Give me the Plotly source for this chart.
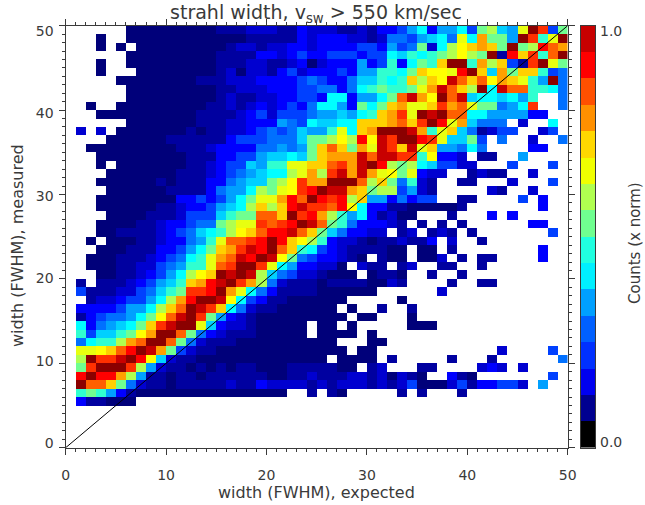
import plotly.graph_objects as go

W, H = 645, 505
TITLE = "strahl width, v<sub>sw</sub> &gt; 550 km/sec"
X_TITLE = "width (FWHM), expected"
Y_TITLE = "width (FWHM), measured"
BAR_TITLE = "Counts (x norm)"
TICKS = [0, 10, 20, 30, 40, 50]
BAR_LABELS = ["0.0", "1.0"]

# Colour level of each cell; top row (49-50) first, '.' = no counts
LEVEL_CODES = "0123456789abcdefghijk"
rows = [
    "......000000000111222113" "2" "2211213346" "83668" "4ab76" "ckh4a",
    "...0.." "000000000000" "11111" "32" "3332212554" "6785c" "8faa6" "kh9ck",
    "...0.0." "000000000" "122" "1" "22" "332" "3333443645" "a28bd" "efeak" "abigf",
    "......" "000000000" "1111" "33" "2343" "3444344879" "89abd" "bak1i" "eh9gk",
    "...0.." "000000000" "111" "22" "11" "230" "2333634938" "a9ekk" "9fbe4" "1hkca",
    "...0..." "00000000" "120221" "3423" "334366998a" "eddci" "ke7fa" "ee945",
    "....." "00000000" "111" "222" "3333" "45" "433577989e" "bedjg" "egdfe" "c96k5",
    "......" "000000000" "11222" "333" "44" "553589a99a" "cfjgeb" "k8j" "gg" "9985",
    "......" "000000000" "1211" "22" "33" "44" "3883668agj" "fdkgj" "78878" "69" ".." "5",
    "..0.." "000000000" "11212" "32" "3435" "8863a8aefc" "cehfg" "caa" "568" "h" ".." "5",
    "..." "0000000000" "1111" "2" "3424445" "667689efhc" "kjkgg" "88" "6666" "33" "..",
    "......" "0000000" "111" "22" "333" "6548" "7788eeefge" "hkicf" "7555" "." "2" ".." "8.",
    ".2.2." "0000000" "1011" "22" "3454" "576" "69c8efkkkj" "f9ce75" "12" "44" ".." "24" ".",
    "...." "000000" "111111" "3444" "555" "7a" "abdbidjhkk" "ihc" "77a4" "." "5" ".." "2" ".." "5",
    ".." "000000000" "111" "2" "3333" "55" "656" "a" "egeafcjhej" "ce" "66585" "...." "33" "..",
    "..." "000000000" "111" "3344" "677" "87a" "efffjgjjhh" "9d33" "2" "." "11" ".." "6" "....",
    "...0." "0000000" "11" "2344" "76" "99" "cce" "eghfjkibab" "8744" "22" "..." "4" "..." "4.",
    "...." "0000000" "111" "234567" "88" "bcf" "bhjfjfcdac322" ".." "1211" ".." "2" "...",
    "..." "000000" "1" "0" "111" "3356" "77" "abd" "hf" "fkkkgbea5921" ".." "11" "..." "2" "..." "4.",
    "...." "000000" "1111" "3566" "8bacd" "hi" "kjjfeabb4621" "....." "21" ".." "2" "...",
    "..." "00000000" "33434" "68a" "ccf" "igk" "ihibe66" "35344" ".." "11" "...." "4" "." "3" "..",
    "..." "000000" "11" "2334" "678" "bebe" "ijh" "hgid83311" "00000" "1" "......." "3..",
    "....0000" "111" "2" "444" "79aa" "gge" "khi" "fb96831200" "..." "1" "..." "3" "." "3" ".....",
    "...0000" "11" "2334" "55" "abcc" "hghikj" "ga95333" "21" "." "1" "." "1" "." "1" "......" "33" "..",
    "...0011112345789bdegiijge" "a753322" "." "12" "." "121" "." "1" "......." "4.",
    "..0.00011233569cgghikiedb" "932210112113" "." "2" ".." "1" "........",
    "...000111334" "68a" "efhjikge" "98" "432" "1111" "00" "." "00" "." "1" "........" "3..",
    "..000111234589cfgjikjda54" "33210" "." "100" "." "002" "." "1" "." "11" "...." "3..",
    "..000112245699cghkkhc8633" "220" ".211" "." "12" ".." "11" ".." "1" "........",
    "...001123468bdekjkjb75422" "1000" "." "0110" ".." "1" ".." "1" "..........",
    ".1.111234679efijkhfb52111" "011110021" "...." "1" ".." "11" ".......",
    ".4111224579ahhikfc853" "1111" "000000" "......" "2" "............",
    "..122344" "68bfikkjd84311" "000" "000" "....." "0" "................",
    ".33334668begkjhe85211" "0000" "00.0" ".." "1" ".." "1" "...............",
    ".1345568adgjkha6321" "000000" "000.00" "..." "0" "...............",
    ".835678aehjkkc73221" "00000." "00.0" "....." "000" ".............",
    ".94779adfkkga532111" "00000" "." "0000.0" "...................",
    ".5899bfgkkga52111" "00000000" "00" "..." "00" "..................",
    ".ccdegikjfa4211" "0000000000" "000.00" "............" "2" "...." "4.",
    ".bkhhjkid7211" "000000000000" "0.0000" ".1" "....." "1" "..." "1" "......" "5",
    ".ahkkkhb62" "110101011000111" "1100" ".12" "..." "11" "...." "232" ".2" "....",
    ".ikiifb6" "11011011111100112" "11122120210" ".." "310" "......." "4.",
    ".kggea5211011111211322221" "2122212124" "000" "24" "1" "33" "44" "2" ".6..",
    ".9a9631" "000000000000000" "..1" ".10" "....." "1." "1" "..." "1" "..........",
    ".311000.................." ".........................",
    "." * 50,
    "." * 50,
    "." * 50,
    "." * 50,
    "." * 50,
]

# Colours: heat map levels and the 16 bands of the colour bar
level_colors = ["#00007a", "#0000a0", "#0000d0", "#0000ff", "#0040ff", "#0070ff", "#00a0ff",
                "#00d0ff", "#00ffff", "#30ffd0", "#70ff90", "#b0ff50", "#e8ff10", "#ffff00",
                "#ffd000", "#ffa000", "#ff6000", "#ff3000", "#ff0000", "#c80000", "#8b0000"]
bar_colors = ["#000000", "#000090", "#0000f0", "#0030ff", "#0060ff", "#00a0ff", "#00f0ff", "#20ffe0",
              "#70ff90", "#b0ff50", "#f0ff00", "#ffd800", "#ff9000", "#ff5000", "#ff0000", "#c80000"]
bar_values = list(range(16))

PX = dict(left=65.7, right=567.7, top=25.7, bottom=447.7, bar_l=581, bar_r=595)
xdom = [PX["left"] / W, PX["right"] / W]
ydom = [1 - PX["bottom"] / H, 1 - PX["top"] / H]
bardom = [PX["bar_l"] / W, PX["bar_r"] / W]

n = len(LEVEL_CODES) - 1
z = []
for row in reversed(rows):
    z.append([None if c == "." else LEVEL_CODES.index(c) / n for c in row.ljust(50, ".")[:50]])
edges = list(range(51))
scale = [[i / n, c] for i, c in enumerate(level_colors)]

INK = "#3a3a3a"
FONT = "DejaVu Sans"

fig = go.Figure()
fig.add_trace(go.Heatmap(x=edges, y=edges, z=z, zmin=0, zmax=1, colorscale=scale,
                         showscale=False, hoverongaps=False))
fig.add_trace(go.Scatter(x=[0, 50], y=[0, 50], mode="lines",
                         line=dict(color="black", width=1), showlegend=False))
# label-only axis: the labels sit slightly away from their ticks in the original
fig.add_trace(go.Scatter(x=[0], y=[0], yaxis="y3", mode="none", showlegend=False, hoverinfo="skip"))
fig.add_trace(go.Heatmap(x=[0, 1], y=[i / 16 for i in range(17)], z=[[v] for v in bar_values],
                         xaxis="x2", yaxis="y2", zmin=0, zmax=15,
                         colorscale=[[i / 15, c] for i, c in enumerate(bar_colors)],
                         showscale=False, hoverinfo="skip"))

axis = dict(range=[0, 50], tickvals=TICKS, ticks="outside", ticklen=6, tickwidth=1, tickcolor=INK,
            showline=True, linecolor=INK, linewidth=1, mirror="ticks", showgrid=False, zeroline=False,
            automargin=False,
            minor=dict(dtick=1, tick0=0, ticks="outside", ticklen=3, tickwidth=1, tickcolor=INK, showgrid=False))

annotations = [
    dict(text=X_TITLE, x=316, y=492, size=16),
    dict(text=Y_TITLE, x=17, y=246, textangle=-90, size=16),
    dict(text=BAR_TITLE, x=635, y=243, textangle=-90, size=15),
    dict(text=BAR_LABELS[1], x=611, y=31, size=14),
    dict(text=BAR_LABELS[0], x=611, y=442, size=14),
]
for a in annotations:
    size = a.pop("size")
    a.update(x=a["x"] / W, y=1 - a["y"] / H, xref="paper", yref="paper", showarrow=False,
             xanchor="center", yanchor="middle", font=dict(family=FONT, size=size, color=INK))

fig.update_layout(
    width=W, height=H, autosize=False, margin=dict(l=0, r=0, t=0, b=0),
    paper_bgcolor="white", plot_bgcolor="white", showlegend=False,
    font=dict(family=FONT, size=14, color=INK),
    title=dict(text=TITLE, x=316 / W, y=1 - 12 / H, xanchor="center", yanchor="middle",
               font=dict(family=FONT, size=19, color=INK)),
    xaxis=dict(axis, domain=xdom, anchor="y", ticktext=[str(t) for t in TICKS], ticklabelstandoff=8),
    yaxis=dict(axis, domain=ydom, anchor="x", showticklabels=False),
    yaxis3=dict(domain=ydom, overlaying="y", side="left", anchor="x", automargin=False,
                range=[(443 - PX["bottom"]) / 8.24, (443 - PX["top"]) / 8.24],
                tickvals=TICKS, ticks="", showline=False, showgrid=False, zeroline=False,
                ticklabelstandoff=11),
    xaxis2=dict(domain=bardom, anchor="y2", range=[0, 1], showticklabels=False, ticks="", automargin=False,
                showline=True, linecolor=INK, mirror=True, showgrid=False, zeroline=False),
    yaxis2=dict(domain=ydom, anchor="x2", range=[0, 1], showticklabels=False, ticks="", automargin=False,
                showline=True, linecolor=INK, mirror=True, showgrid=False, zeroline=False),
    annotations=annotations,
)

fig.write_html("out.html", config=dict(displayModeBar=False),
               post_script="document.body.style.margin='0';")
